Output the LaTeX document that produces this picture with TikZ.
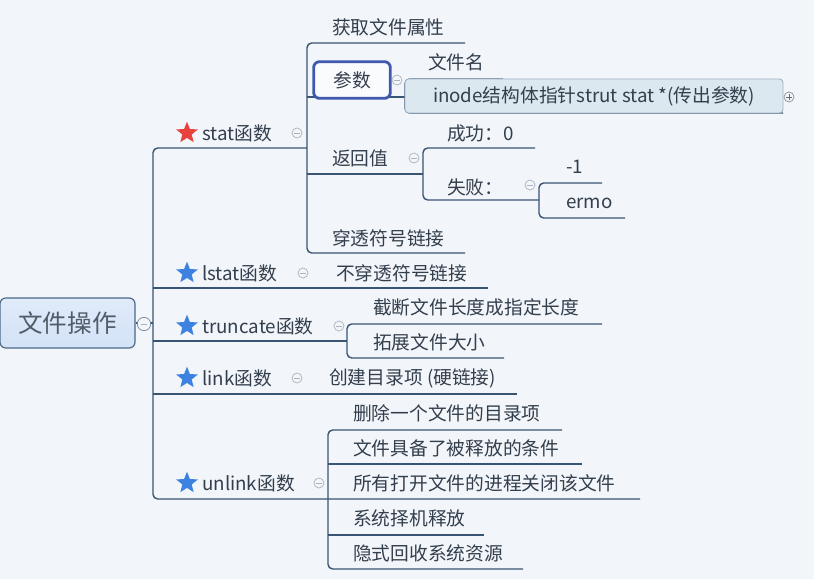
\documentclass[tikz,border=0pt]{standalone}
\usepackage{fontspec}
\setmainfont{Noto Sans CJK SC}
\usepackage{tikz}
\usetikzlibrary{
  shapes.geometric,
  positioning,
  backgrounds
}
\usepackage{xcolor}
\definecolor{bgcol}{HTML}{F2F5F9}
\definecolor{linecol}{HTML}{3A5573}
\definecolor{txtcol}{HTML}{333F4D}
\definecolor{foldgray}{HTML}{A9B4C0}
\definecolor{starblue}{HTML}{3D82E0}
\definecolor{starred}{HTML}{E8423E}
\definecolor{rootfill}{HTML}{D3E2F7}
\definecolor{rootdraw}{HTML}{4B6888}
\definecolor{selblue}{HTML}{3F58B0}
\definecolor{hoverfill}{HTML}{DCE8EF}
\definecolor{hoverdraw}{HTML}{9FB4C4}
\tikzset{
  branch/.style={draw=linecol, line width=1.2pt, rounded corners=4pt},
  topic/.style={anchor=west, inner sep=0pt, text=txtcol, font=\fontsize{16}{19}\selectfont},
  starmark/.style={star, star points=5, star point ratio=2.3, fill=#1, inner sep=0pt, minimum size=6.8mm},
  starmark/.default=starblue,
  fold/.style={
    circle, draw=foldgray, fill=bgcol, line width=0.6pt, minimum size=3mm, inner sep=0pt,
    path picture={\draw[foldgray, line width=0.6pt] ([xshift=-0.8mm]path picture bounding box.center) -- ([xshift=0.8mm]path picture bounding box.center);}
  },
  unfold/.style={
    circle, draw=foldgray!80!black, fill=bgcol, line width=0.6pt, minimum size=3mm, inner sep=0pt,
    path picture={
      \draw[foldgray!60!black, line width=0.6pt] ([xshift=-0.8mm]path picture bounding box.center) -- ([xshift=0.8mm]path picture bounding box.center);
      \draw[foldgray!60!black, line width=0.6pt] ([yshift=-0.8mm]path picture bounding box.center) -- ([yshift=0.8mm]path picture bounding box.center);}
  },
}

\begin{document}
\begin{tikzpicture}[
  x=0.3mm, y=-0.3mm,
  rootbox/.style={rectangle, draw=rootdraw, top color=rootfill!70!white, bottom color=rootfill, rounded corners=5pt, line width=1pt, minimum width=40.5mm, minimum height=15mm, text=txtcol!85, font=\fontsize{21}{25}\selectfont},
  selbox/.style={rectangle, draw=selblue, fill=white!60!bgcol, rounded corners=5pt, line width=2.4pt, minimum width=23mm, minimum height=11mm, text=txtcol, font=\fontsize{16}{19}\selectfont},
  hoverbox/.style={rectangle, draw=hoverdraw, fill=hoverfill, rounded corners=3pt, line width=0.8pt, minimum width=113.4mm, minimum height=10.2mm, inner sep=0pt, text=txtcol, font=\fontsize{16}{19}\selectfont},
]
\useasboundingbox (0,0) rectangle (814,579);

% Root
\node[rootbox] (root) at (67.5,323) {文件操作};
\node[fold, draw=rootdraw!80, minimum size=4mm] (rootfold) at (144,324) {};

% Functions
\node[starmark=starred] (stat-star) at (187,133) {};
\node[topic] (stat) at (202,133) {stat函数};
\node[fold] (stat-fold) at (297,133) {};
\node[starmark] (lstat-star) at (187,273) {};
\node[topic] (lstat) at (202,273) {lstat函数};
\node[fold] (lstat-fold) at (303,273) {};
\node[starmark] (trunc-star) at (187,326) {};
\node[topic] (trunc) at (202,326) {truncate函数};
\node[fold] (trunc-fold) at (339,326) {};
\node[starmark] (link-star) at (187,378) {};
\node[topic] (link) at (202,378) {link函数};
\node[fold] (link-fold) at (297,378) {};
\node[starmark] (unlink-star) at (187,483) {};
\node[topic] (unlink) at (202,483) {unlink函数};
\node[fold] (unlink-fold) at (319,483) {};

% stat
\node[topic] (attr) at (332,27) {获取文件属性};
\node[selbox] (param) at (352,80) {参数};
\node[fold] (param-fold) at (397,80) {};
\node[topic] (fname) at (428,62) {文件名};
\node[hoverbox] (inode) at (594,96) {inode结构体指针strut stat *(传出参数)};
\node[unfold] (inode-fold) at (789,97) {};
\node[topic] (ret) at (332,158) {返回值};
\node[fold] (ret-fold) at (414,158) {};
\node[topic] (ok) at (447,133) {成功：0};
\node[topic] (fail) at (447,187) {失败：};
\node[fold] (fail-fold) at (530,185) {};
\node[topic] (minus1) at (566,167) {-1};
\node[topic] (errno) at (566,203) {ermo};
\node[topic] (pene) at (332,238) {穿透符号链接};

% lstat, truncate, link
\node[topic] (nopene) at (336,273) {不穿透符号链接};
\node[topic] (cut) at (373,307) {截断文件长度成指定长度};
\node[topic] (ext) at (373,342) {拓展文件大小};
\node[topic] (hard) at (329,378) {创建目录项 (硬链接)};

% unlink
\node[topic] (del) at (353,413) {删除一个文件的目录项};
\node[topic] (cond) at (353,448) {文件具备了被释放的条件};
\node[topic] (close) at (353,483) {所有打开文件的进程关闭该文件};
\node[topic] (sys) at (353,518) {系统择机释放};
\node[topic] (gc) at (353,553) {隐式回收系统资源};

% Junctions
\coordinate (trT) at (153,148);
\coordinate (trB) at (153,499);
\coordinate (sbT) at (307,43);
\coordinate (sbB) at (307,253);
\coordinate (attrE) at (465,43);
\coordinate (peneE) at (465,253);
\coordinate (pbM) at (405,97);
\coordinate (pbB) at (405,113);
\coordinate (fnameE) at (503,79);
\coordinate (inodeE) at (783,113);
\coordinate (rbM) at (423,174);
\coordinate (rbB) at (423,200);
\coordinate (okE) at (535,148);
\coordinate (fbM) at (539,200);
\coordinate (fbB) at (539,218);
\coordinate (m1E) at (602,183);
\coordinate (errE) at (625,218);
\coordinate (lstE) at (488,288);
\coordinate (tbM) at (347,341);
\coordinate (tbB) at (347,358);
\coordinate (cutE) at (602,324);
\coordinate (extE) at (504,358);
\coordinate (lnkE) at (517,394);
\coordinate (ubT) at (328,430);
\coordinate (ubB) at (328,569);
\coordinate (delE) at (562,430);
\coordinate (condE) at (582,464);
\coordinate (closeE) at (640,499);
\coordinate (sysE) at (484,535);
\coordinate (gcE) at (523,569);

% Branches
\begin{scope}[on background layer]
\fill[bgcol] (0,0) rectangle (814,579);
\draw[branch] (root.east) -- (trT |- root.east);
\draw[branch] (sbT |- trT) -- (trT) -- (trB) -- (closeE);
\draw[branch] (trT |- lstE) -- (lstE);
\draw[branch] (trT |- tbM) -- (tbM);
\draw[branch] (trT |- lnkE) -- (lnkE);
\draw[branch] (attrE) -| (sbB) -- (peneE);
\draw[branch] (sbT |- pbM) -- (pbM);
\draw[branch] (fnameE) -| (pbB) -- (inodeE);
\draw[branch] (sbT |- rbM) -- (rbM);
\draw[branch] (okE) -| (rbB) -- (fbM);
\draw[branch] (m1E) -| (fbB) -- (errE);
\draw[branch] (cutE) -| (tbB) -- (extE);
\draw[branch] (delE) -| (ubB) -- (gcE);
\draw[branch] (ubT |- condE) -- (condE);
\draw[branch] (ubT |- sysE) -- (sysE);
\end{scope}

\end{tikzpicture}
\end{document}
